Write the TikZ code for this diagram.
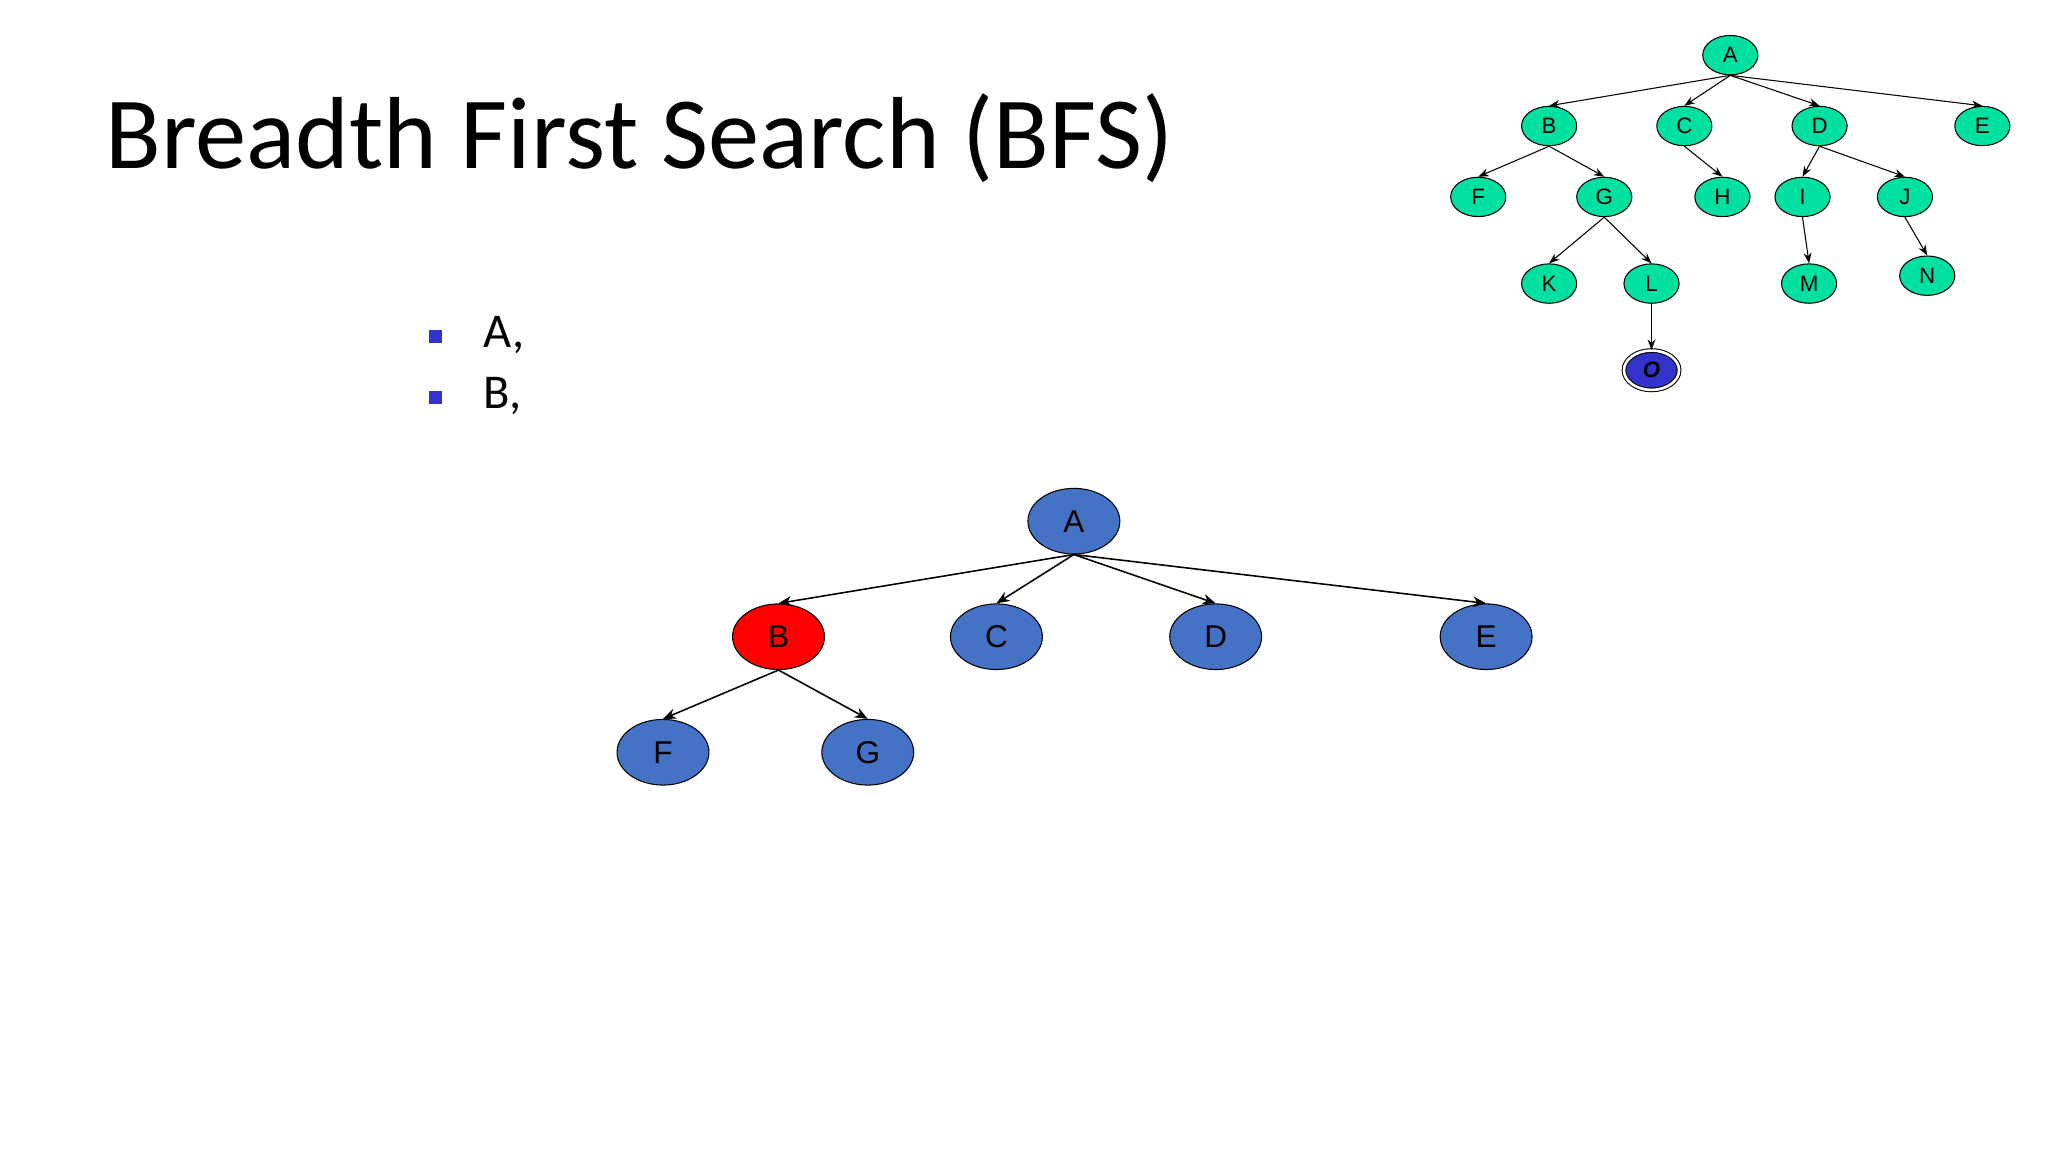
\documentclass[tikz,border=0pt]{standalone}
\usepackage{fontspec}
\setmainfont{Carlito}
\newfontfamily\arialfont{Liberation Sans}
\usetikzlibrary{arrows.meta, shapes.geometric}
\definecolor{mint}{HTML}{00E0A0}
\definecolor{nodeblue}{HTML}{4472C4}
\definecolor{goalblue}{HTML}{3333CC}
\tikzset{
    small/.style={ellipse, draw, fill=mint, minimum width=21pt, minimum height=15pt, inner sep=0pt, font=\arialfont\fontsize{8.5}{9}\selectfont},
    big/.style={ellipse, draw, fill=nodeblue, minimum width=35pt, minimum height=25pt, inner sep=0pt, font=\arialfont\fontsize{12}{13}\selectfont},
    edge/.style={-{Stealth[length=4pt,width=3pt]}, thin},
    bedge/.style={-{Stealth[length=5pt,width=4pt]}, semithick}
}
\begin{document}
\begin{tikzpicture}[x=0.5pt, y=-0.5pt]
        \useasboundingbox (0,0) rectangle (1560,878);

        \node[anchor=base west, font=\fontsize{39}{40}\selectfont, inner sep=0pt] (title) at (80,128) {Breadth First Search (BFS)};

        \node[fill=goalblue, minimum size=5pt, inner sep=0pt] (s1) at (332,256) {};
        \node[fill=goalblue, minimum size=5pt, inner sep=0pt] (s2) at (332,303) {};
        \node[anchor=west, font=\fontsize{18.5}{20}\selectfont, inner sep=0pt] (t1) at (368,255) {A,};
        \node[anchor=west, font=\fontsize{18.5}{20}\selectfont, inner sep=0pt] (t2) at (368,302) {B,};

        % full tree
        \node[small] (sA) at (1318,42) {A};
        \node[small] (sB) at (1180,96) {B};
        \node[small] (sC) at (1283,96) {C};
        \node[small] (sD) at (1386,96) {D};
        \node[small] (sE) at (1510,96) {E};
        \node[small] (sF) at (1126,150) {F};
        \node[small] (sG) at (1222,150) {G};
        \node[small] (sH) at (1312,150) {H};
        \node[small] (sI) at (1373,150) {I};
        \node[small] (sJ) at (1451,150) {J};
        \node[small] (sK) at (1180,216) {K};
        \node[small] (sL) at (1258,216) {L};
        \node[small] (sM) at (1378,216) {M};
        \node[small] (sN) at (1468,210) {N};
        \node[small, fill=goalblue, double, double distance=1pt, font=\arialfont\bfseries\itshape\fontsize{8.5}{9}\selectfont] (sO) at (1258,282) {O};

        \foreach \p/\c in {A/B, A/C, A/D, A/E, B/F, B/G, C/H, D/I, D/J, G/K, G/L, I/M, J/N, L/O}
            \draw[edge] (s\p.south) -- (s\c.north);

        % search tree so far
        \node[big] (A) at (818,397) {A};
        \node[big, fill=red] (B) at (593,485) {B};
        \node[big] (C) at (759,485) {C};
        \node[big] (D) at (926,485) {D};
        \node[big] (E) at (1132,485) {E};
        \node[big] (F) at (505,573) {F};
        \node[big] (G) at (661,573) {G};

        \foreach \p/\c in {A/B, A/C, A/D, A/E, B/F, B/G}
            \draw[bedge] (\p.south) -- (\c.north);
    \end{tikzpicture}
\end{document}
